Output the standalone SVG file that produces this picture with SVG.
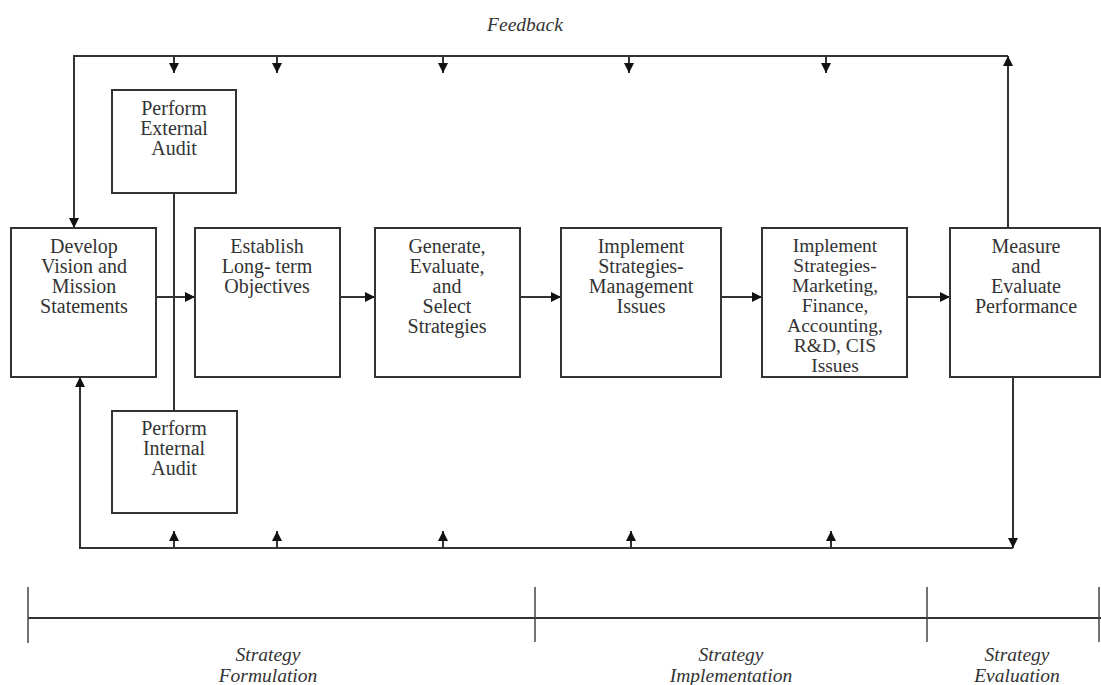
<svg xmlns="http://www.w3.org/2000/svg" width="1101" height="685" viewBox="0 0 1101 685">
<style>
.box{fill:#fff;stroke:#333;stroke-width:2}
.t{font-family:"Liberation Serif","Times New Roman",serif;font-size:20px;fill:#333;text-anchor:middle}
.s{font-size:19.5px}
.i{font-family:"Liberation Serif","Times New Roman",serif;font-size:19.5px;font-style:italic;fill:#333;text-anchor:middle}
.ln{fill:none;stroke:#333;stroke-width:2}
.ar{fill:none;stroke:#333;stroke-width:2;marker-end:url(#ah)}
.tk{fill:none;stroke:#444;stroke-width:1.5}
</style>
<defs>
<marker id="ah" viewBox="0 0 10 10" refX="10" refY="5" markerWidth="5.5" markerHeight="5" orient="auto" markerUnits="strokeWidth">
<path d="M0,0 L10,5 L0,10 Z" fill="#111"/>
</marker>
</defs>
<rect width="1101" height="685" fill="#fff"/>
<g id="connectors">
<polyline class="ln" points="74,228 74,56 1008,56"/>
<line class="ar" x1="74" y1="120" x2="74" y2="228"/>
<line class="ar" x1="1008" y1="228" x2="1008" y2="56"/>
<line class="ar" x1="174" y1="56" x2="174" y2="73"/>
<line class="ar" x1="277" y1="56" x2="277" y2="73"/>
<line class="ar" x1="443" y1="56" x2="443" y2="73"/>
<line class="ar" x1="629" y1="56" x2="629" y2="73"/>
<line class="ar" x1="826" y1="56" x2="826" y2="73"/>
<polyline class="ln" points="80,377 80,548 1013,548"/>
<line class="ar" x1="80" y1="450" x2="80" y2="377"/>
<line class="ar" x1="1013" y1="377" x2="1013" y2="548"/>
<line class="ar" x1="174" y1="548" x2="174" y2="531"/>
<line class="ar" x1="277" y1="548" x2="277" y2="531"/>
<line class="ar" x1="443" y1="548" x2="443" y2="531"/>
<line class="ar" x1="631" y1="548" x2="631" y2="531"/>
<line class="ar" x1="831" y1="548" x2="831" y2="531"/>
<line class="ln" x1="174" y1="194" x2="174" y2="411" stroke-width="1.5"/>
<line class="ar" x1="156" y1="297" x2="195" y2="297"/>
<line class="ar" x1="340" y1="297" x2="375" y2="297"/>
<line class="ar" x1="520" y1="297" x2="561" y2="297"/>
<line class="ar" x1="721" y1="297" x2="762" y2="297"/>
<line class="ar" x1="907" y1="297" x2="950" y2="297"/>
</g>
<text class="i" x="525" y="31">Feedback</text>
<g id="n-ext">
<rect class="box" x="112" y="90" width="124" height="103"/>
<text class="t" x="174" y="115">Perform</text>
<text class="t" x="174" y="135">External</text>
<text class="t" x="174" y="155">Audit</text>
</g>
<g id="n-int">
<rect class="box" x="112" y="411" width="125" height="102"/>
<text class="t" x="174" y="435">Perform</text>
<text class="t" x="174" y="455">Internal</text>
<text class="t" x="174" y="475">Audit</text>
</g>
<g id="n-vision">
<rect class="box" x="11" y="228" width="145" height="149"/>
<text class="t" x="84" y="253">Develop</text>
<text class="t" x="84" y="273">Vision and</text>
<text class="t" x="84" y="293">Mission</text>
<text class="t" x="84" y="313">Statements</text>
</g>
<g id="n-objectives">
<rect class="box" x="195" y="228" width="145" height="149"/>
<text class="t" x="267" y="253">Establish</text>
<text class="t" x="267" y="273">Long- term</text>
<text class="t" x="267" y="293">Objectives</text>
</g>
<g id="n-generate">
<rect class="box" x="375" y="228" width="145" height="149"/>
<text class="t" x="447" y="253">Generate,</text>
<text class="t" x="447" y="273">Evaluate,</text>
<text class="t" x="447" y="293">and</text>
<text class="t" x="447" y="313">Select</text>
<text class="t" x="447" y="333">Strategies</text>
</g>
<g id="n-mgmt">
<rect class="box" x="561" y="228" width="160" height="149"/>
<text class="t" x="641" y="253">Implement</text>
<text class="t" x="641" y="273">Strategies-</text>
<text class="t" x="641" y="293">Management</text>
<text class="t" x="641" y="313">Issues</text>
</g>
<g id="n-marketing">
<rect class="box" x="762" y="228" width="145" height="149"/>
<text class="t s" x="835" y="252">Implement</text>
<text class="t s" x="835" y="272">Strategies-</text>
<text class="t s" x="835" y="292">Marketing,</text>
<text class="t s" x="835" y="312">Finance,</text>
<text class="t s" x="835" y="332">Accounting,</text>
<text class="t s" x="835" y="352">R&amp;D, CIS</text>
<text class="t s" x="835" y="372">Issues</text>
</g>
<g id="n-measure">
<rect class="box" x="950" y="228" width="150" height="149"/>
<text class="t" x="1026" y="253">Measure</text>
<text class="t" x="1026" y="273">and</text>
<text class="t" x="1026" y="293">Evaluate</text>
<text class="t" x="1026" y="313">Performance</text>
</g>
<g id="timeline">
<line class="ln" x1="28" y1="618" x2="1101" y2="618" stroke="#555"/>
<line class="tk" x1="28" y1="587" x2="28" y2="643"/>
<line class="tk" x1="535" y1="587" x2="535" y2="642"/>
<line class="tk" x1="927" y1="587" x2="927" y2="642"/>
<line class="tk" x1="1099" y1="587" x2="1099" y2="642"/>
<text class="i" x="268" y="661">Strategy</text>
<text class="i" x="268" y="682">Formulation</text>
<text class="i" x="731" y="661">Strategy</text>
<text class="i" x="731" y="682">Implementation</text>
<text class="i" x="1017" y="661">Strategy</text>
<text class="i" x="1017" y="682">Evaluation</text>
</g>
</svg>
